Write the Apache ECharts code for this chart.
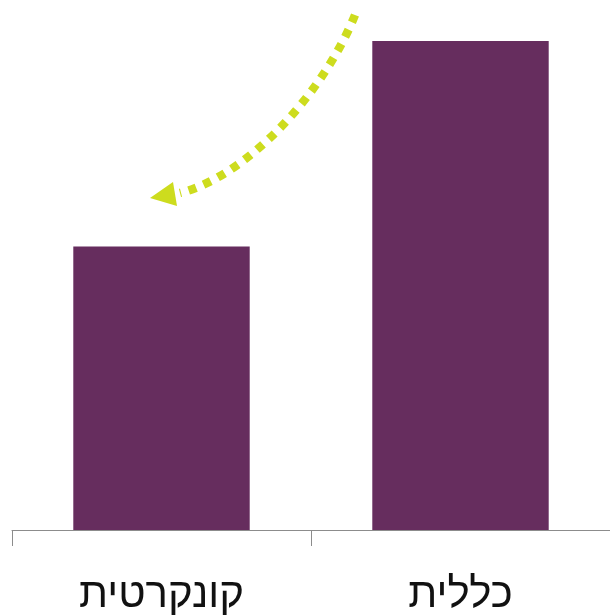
<!DOCTYPE html>
<html><head><meta charset="utf-8">
<script src="https://cdn.jsdelivr.net/npm/echarts@6/dist/echarts.min.js"></script>
<style>html,body{margin:0;padding:0;background:#fff}#c{width:610px;height:616px}</style>
</head><body><div id="c"></div>
<script>
const categories = ['קונקרטית', 'כללית'];
const values = [58, 100];
const chart = echarts.init(document.getElementById('c'));
chart.setOption({
  animation: false,
  grid: {left: 12, right: 0, top: 41, bottom: 85},
  xAxis: {
    type: 'category', data: categories,
    axisLine: {lineStyle: {color: '#8c8c8c', width: 1}},
    axisTick: {show: true, length: 16, lineStyle: {color: '#8c8c8c'}, alignWithLabel: false},
    axisLabel: {fontFamily: 'Liberation Sans', fontSize: 42, color: '#111', margin: 44}
  },
  yAxis: {type: 'value', min: 0, max: 100, show: false, splitLine: {show: false}},
  series: [{
    type: 'bar', data: values, barWidth: '59%',
    itemStyle: {color: '#662D5E'}
  }],
  graphic: [
    {type: 'bezierCurve', shape: {x1: 355, y1: 15, cpx1: 325, cpy1: 90, cpx2: 250, cpy2: 175, x2: 180, y2: 193},
     style: {stroke: '#CDDC1E', lineWidth: 8.5, lineDash: [8, 8], fill: null}},
    {type: 'polygon', shape: {points: [[150, 198], [173, 182], [177, 206]]},
     style: {fill: '#CDDC1E'}}
  ]
});
</script></body></html>
